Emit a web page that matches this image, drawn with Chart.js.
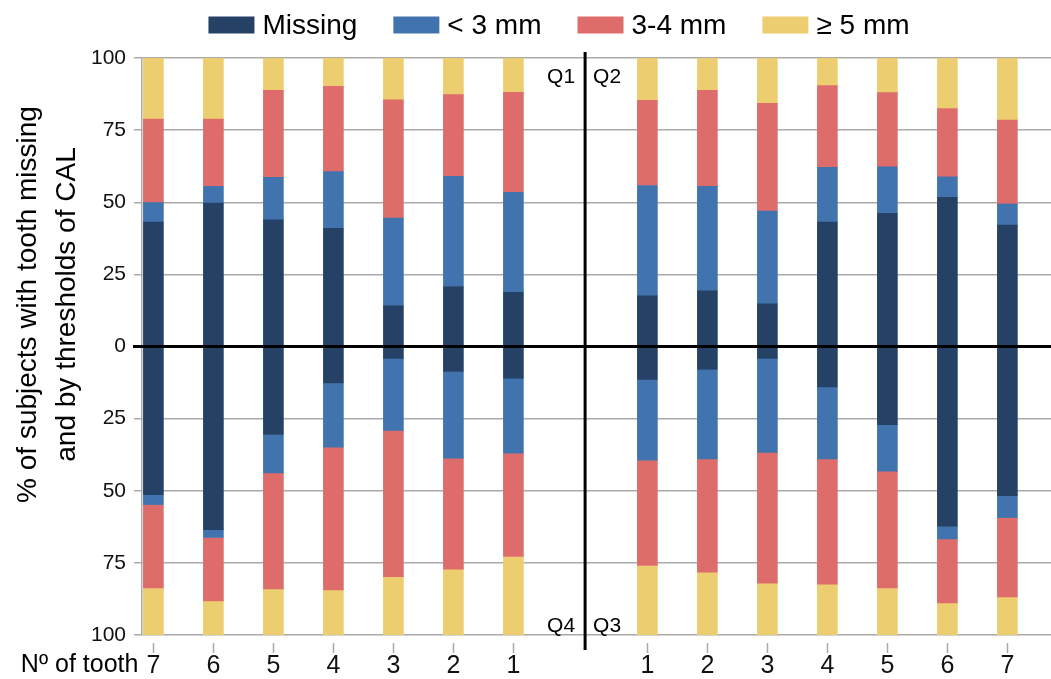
<!DOCTYPE html>
<html><head><meta charset="utf-8">
<script src="https://cdn.jsdelivr.net/npm/chart.js@4.4.0/dist/chart.umd.min.js"></script>
<style>html,body{margin:0;padding:0;background:#fff;overflow:hidden}#wrap{width:1051px;height:679px;position:relative}canvas{display:block}</style>
</head><body><div id="wrap"><canvas id="c" width="1051" height="679"></canvas></div>
<script>
// ---- data ----
const seriesNames = ['Missing', '< 3 mm', '3-4 mm', '≥ 5 mm'];
const seriesColors = ['#254165', '#4174AF', '#DE6C6B', '#ECCE71'];
const teethLeft = ['7', '6', '5', '4', '3', '2', '1'];
const teethRight = ['1', '2', '3', '4', '5', '6', '7'];
const yTickValues = [-100, -75, -50, -25, 0, 25, 50, 75, 100];
const quadrantLabels = ['Q1', 'Q2', 'Q3', 'Q4'];

// Q1 (upper, left half, teeth 7..1)
const q1Missing = [43.1, 49.7, 43.9, 41.0, 14.1, 20.8, 18.8];
const q1Under3  = [6.8, 5.8, 14.7, 19.6, 30.4, 38.2, 34.6];
const q1Mid     = [28.9, 23.3, 30.2, 29.6, 41.0, 28.3, 34.7];
const q1Over5   = [21.2, 21.2, 11.2, 9.8, 14.5, 12.7, 11.9];
// Q2 (upper, right half, teeth 1..7)
const q2Missing = [17.6, 19.3, 14.8, 43.1, 46.2, 51.7, 42.1];
const q2Under3  = [38.2, 36.2, 32.1, 19.0, 16.1, 7.1, 7.3];
const q2Mid     = [29.5, 33.3, 37.4, 28.3, 25.7, 23.7, 29.1];
const q2Over5   = [14.7, 11.2, 15.7, 9.6, 12.0, 17.5, 21.5];
// Q4 (lower, left half, teeth 7..1)
const q4Missing = [51.4, 63.5, 30.5, 12.6, 4.1, 8.6, 11.0];
const q4Under3  = [3.4, 2.7, 13.3, 22.3, 25.0, 30.1, 26.0];
const q4Mid     = [28.9, 22.0, 40.2, 49.5, 50.7, 38.5, 35.8];
const q4Over5   = [16.3, 11.8, 16.0, 15.6, 20.2, 22.8, 27.2];
// Q3 (lower, right half, teeth 1..7)
const q3Missing = [11.4, 7.9, 4.1, 14.0, 27.1, 62.3, 51.7];
const q3Under3  = [28.0, 31.1, 32.6, 25.0, 16.1, 4.4, 7.6];
const q3Mid     = [36.5, 39.2, 45.3, 43.4, 40.5, 22.2, 27.5];
const q3Over5   = [24.1, 21.8, 18.0, 17.6, 16.3, 11.1, 13.2];

// ---- layout ----
const FONT = '"Liberation Sans", Arial, Helvetica, sans-serif';
const GAP = 2.233;            // spacing (in bar slots) between left tooth 1 and right tooth 1
const CENTER_OFFSET = 1.195;  // divider position after left tooth 1
const nL = teethLeft.length;
const positions = teethLeft.map((_, i) => i).concat(teethRight.map((_, j) => nL - 1 + GAP + j));
const tickLabels = teethLeft.concat(teethRight);
const CENTER = nL - 1 + CENTER_OFFSET;

const upperLeft = [q1Missing, q1Under3, q1Mid, q1Over5];
const upperRight = [q2Missing, q2Under3, q2Mid, q2Over5];
const lowerLeft = [q4Missing, q4Under3, q4Mid, q4Over5];
const lowerRight = [q3Missing, q3Under3, q3Mid, q3Over5];

function mk(l, r, sign) {
  return positions.map((x, k) => ({ x: x, y: sign * (k < nL ? l[k] : r[k - nL]) }));
}
const datasets = [];
for (let s = 0; s < 4; s++) {
  datasets.push({ label: seriesNames[s], data: mk(upperLeft[s], upperRight[s], 1), backgroundColor: seriesColors[s], stack: 'a' });
}
for (let s = 0; s < 4; s++) {
  datasets.push({ label: seriesNames[s] + ' ', data: mk(lowerLeft[s], lowerRight[s], -1), backgroundColor: seriesColors[s], stack: 'a' });
}

const overlay = {
  id: 'overlay',
  afterDatasetsDraw(chart) {
    const { ctx, chartArea: a, scales: { x, y } } = chart;
    ctx.save();
    ctx.strokeStyle = '#000';
    ctx.lineWidth = 3;
    const y0 = y.getPixelForValue(0);
    ctx.beginPath(); ctx.moveTo(a.left - 9, y0); ctx.lineTo(a.right, y0); ctx.stroke();
    const cx = x.getPixelForValue(CENTER);
    ctx.beginPath(); ctx.moveTo(cx, a.top - 6); ctx.lineTo(cx, a.bottom + 15); ctx.stroke();
    ctx.restore();
  },
  afterDraw(chart) {
    const { ctx, chartArea: a, scales: { x, y } } = chart;
    ctx.save();
    // legend
    ctx.font = '28px ' + FONT;
    ctx.textBaseline = 'middle';
    ctx.textAlign = 'left';
    const boxW = 46, boxH = 17, g1 = 8, g2 = 36;
    const widths = seriesNames.map(t => ctx.measureText(t).width);
    let total = widths.reduce((p, w) => p + boxW + g1 + w, 0) + g2 * (seriesNames.length - 1);
    let lx = 559 - total / 2;
    const ly = 25;
    seriesNames.forEach((t, i) => {
      ctx.fillStyle = seriesColors[i];
      ctx.fillRect(lx, ly - boxH / 2, boxW, boxH);
      ctx.fillStyle = '#000';
      ctx.fillText(t, lx + boxW + g1, ly + 1);
      lx += boxW + g1 + widths[i] + g2;
    });
    // y title
    ctx.font = '28px ' + FONT;
    ctx.textAlign = 'center';
    ctx.textBaseline = 'middle';
    ctx.fillStyle = '#000';
    const ty = (a.top + a.bottom) / 2 - 42;
    [['% of subjects with tooth missing', 28], ['and by thresholds of CAL', 67]].forEach(([t, tx]) => {
      ctx.save(); ctx.translate(tx, ty); ctx.rotate(-Math.PI / 2); ctx.fillText(t, 0, 0); ctx.restore();
    });
    // x title
    ctx.font = '25px ' + FONT;
    ctx.textAlign = 'right';
    ctx.textBaseline = 'middle';
    ctx.fillText('Nº of tooth', x.getPixelForValue(positions[0]) - 15, a.bottom + 30);
    // quadrant labels
    const cx = x.getPixelForValue(CENTER);
    ctx.font = '21px ' + FONT;
    ctx.textBaseline = 'middle';
    ctx.textAlign = 'right';
    ctx.fillText(quadrantLabels[0], cx - 10, a.top + 19);
    ctx.fillText(quadrantLabels[3], cx - 10, a.bottom - 9);
    ctx.textAlign = 'left';
    ctx.fillText(quadrantLabels[1], cx + 8, a.top + 19);
    ctx.fillText(quadrantLabels[2], cx + 8, a.bottom - 9);
    ctx.restore();
  }
};

new Chart(document.getElementById('c'), {
  type: 'bar',
  data: { datasets: datasets },
  plugins: [overlay],
  options: {
    responsive: false,
    animation: false,
    layout: { padding: { top: 58, left: 0, right: 0, bottom: 0 } },
    plugins: { legend: { display: false }, tooltip: { enabled: false } },
    datasets: { bar: { barThickness: 20, borderWidth: 0 } },
    scales: {
      x: {
        type: 'linear', stacked: true, offset: false,
        min: -0.19, max: 14.96,
        afterBuildTicks: s => { s.ticks = positions.map(v => ({ value: v })); },
        afterFit: s => { s.height = 44; },
        ticks: {
          callback: (v, i) => tickLabels[i],
          font: { family: FONT, size: 25 }, color: '#111', padding: -2,
          maxRotation: 0, autoSkip: false
        },
        grid: { offset: false, drawOnChartArea: false, drawTicks: true, tickLength: 18, tickColor: '#aaa', tickWidth: 1.5, tickBorderDash: [0, 8, 10] },
        border: { display: false }
      },
      y: {
        stacked: true, min: -100, max: 100,
        afterBuildTicks: s => { s.ticks = yTickValues.map(v => ({ value: v })); },
        afterFit: s => { s.width = 142; },
        ticks: { callback: v => String(Math.abs(v)), font: { family: FONT, size: 21 }, color: '#111', padding: 8 },
        grid: { color: '#aaa', lineWidth: 1.5, tickLength: 8 },
        border: { color: '#aaa', width: 1.5 }
      }
    }
  }
});
</script></body></html>
